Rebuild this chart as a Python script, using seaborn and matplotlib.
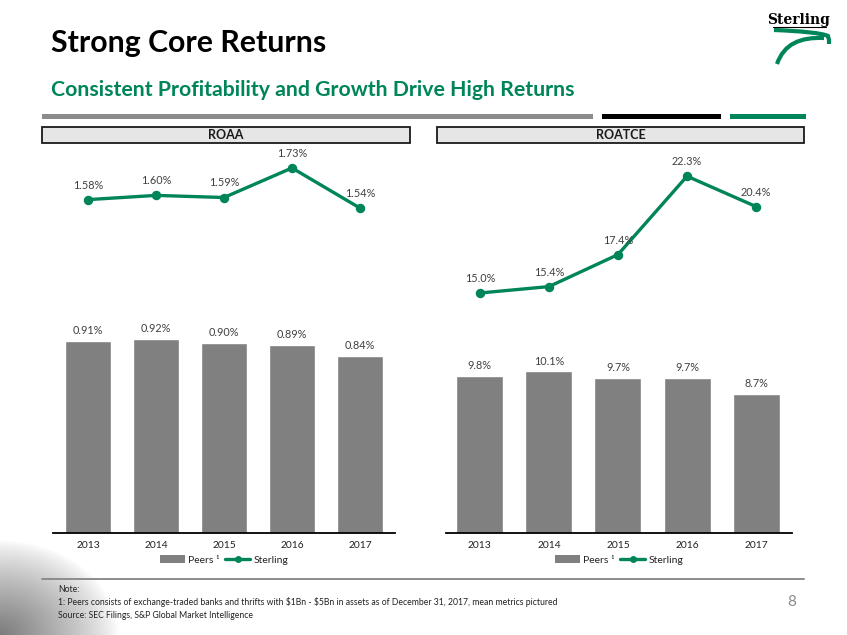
import numpy as np
import pandas as pd
import matplotlib
matplotlib.use("Agg")
import matplotlib.pyplot as plt
import seaborn as sns
from matplotlib.patches import Rectangle, Patch
from matplotlib.lines import Line2D
from matplotlib.path import Path
from matplotlib.patches import PathPatch

# ---------------- data ----------------
years = ["2013", "2014", "2015", "2016", "2017"]
roaa_peers = [0.91, 0.92, 0.90, 0.89, 0.84]
roaa_sterling = [1.58, 1.60, 1.59, 1.73, 1.54]
roatce_peers = [9.8, 10.1, 9.7, 9.7, 8.7]
roatce_sterling = [15.0, 15.4, 17.4, 22.3, 20.4]
legend_labels = ["Peers \u00b9", "Sterling"]

GREEN = "#00855A"
BAR = "#808080"
TXT = "#404040"

sns.set_theme(style="white")
plt.rcParams["font.family"] = ["Lato", "DejaVu Sans"]

W, H = 847, 635
fig = plt.figure(figsize=(W / 100, H / 100), dpi=100)
fig.patch.set_facecolor("white")


def fx(px):
    return px / W


def fy(py):
    return 1 - py / H


# ---------- bottom-left gradient decoration ----------
gax = fig.add_axes([0, 0, fx(130), 100 / H], zorder=0)
gw, gh = 130, 100
xx, yy = np.meshgrid(np.arange(gw) + 0.5, np.arange(gh) + 0.5)
dx = xx / 118.0
dy = (gh - yy) / 95.0
r = np.sqrt(dx ** 2 + dy ** 2)
alpha = np.clip(1 - r, 0, 1) ** 0.8 * 0.52
img = np.zeros((gh, gw, 4))
img[..., 3] = alpha
gax.imshow(img, extent=[0, gw, gh, 0], aspect="auto", interpolation="bilinear")
gax.set_axis_off()

# ---------------- titles ----------------
fig.text(fx(51), fy(43), "Strong Core Returns", fontsize=21.8, fontweight="bold",
         color="black", va="center", ha="left")
fig.text(fx(51), fy(90), "Consistent Profitability and Growth Drive High Returns",
         fontsize=15.3, fontweight="bold", color=GREEN, va="center", ha="left")

# top divider bars
for x0, x1, c in [(42, 593, "#8c8c8c"), (602, 721, "#000000"), (730, 806, GREEN)]:
    fig.add_artist(Rectangle((fx(x0), fy(118.5)), fx(x1 - x0), 5 / H,
                             transform=fig.transFigure, facecolor=c, edgecolor="none"))

# header boxes
for x0, x1, lab in [(42, 410, "ROAA"), (437, 804, "ROATCE")]:
    fig.add_artist(Rectangle((fx(x0), fy(143)), fx(x1 - x0), 16 / H,
                             transform=fig.transFigure, facecolor="#e6e6e6",
                             edgecolor="#1a1a1a", lw=1.3))
    fig.text(fx((x0 + x1) / 2), fy(135), lab, fontsize=9, fontweight="bold",
             color="#1a1a1a", ha="center", va="center")

# logo
fig.text(fx(799), fy(20), "Sterling", fontsize=10, fontweight="bold",
         color="black", ha="center", va="center", family=["DejaVu Serif"])
fig.add_artist(Line2D([fx(773), fx(826)], [fy(26.5), fy(26.5)], color="black",
                      lw=0.8, transform=fig.transFigure))
p1 = Path([(fx(774), fy(30)), (fx(800), fy(31)), (fx(822), fy(33)), (fx(828), fy(36)),
           (fx(829), fy(40)), (fx(829), fy(44))],
          [Path.MOVETO, Path.CURVE4, Path.CURVE4, Path.CURVE4, Path.LINETO, Path.LINETO])
fig.add_artist(PathPatch(p1, transform=fig.transFigure, fill=False, edgecolor=GREEN, lw=3))
p2 = Path([(fx(777), fy(64)), (fx(784), fy(44)), (fx(800), fy(37)), (fx(824), fy(38))],
          [Path.MOVETO, Path.CURVE4, Path.CURVE4, Path.CURVE4])
fig.add_artist(PathPatch(p2, transform=fig.transFigure, fill=False, edgecolor=GREEN, lw=3))


# ---------------- panels ----------------
def panel(x_left, x_right, xlim, ymax, peers, sterling, fmt):
    base, top = 533, 140
    ax = fig.add_axes([fx(x_left), fy(base), fx(x_right - x_left), (base - top) / H])
    df = pd.DataFrame({"year": years, "peers": peers, "sterling": sterling})
    sns.barplot(data=df, x="year", y="peers", color=BAR, width=0.68, saturation=1,
                errorbar=None, ax=ax)
    sns.pointplot(data=df, x="year", y="sterling", color=GREEN, markers="o",
                  errorbar=None, markersize=5, linewidth=2.4, ax=ax)
    ax.set_xlim(*xlim)
    ax.set_ylim(0, ymax)
    ax.set_xlabel("")
    ax.set_ylabel("")
    ax.set_yticks([])
    for s in ["left", "right", "top"]:
        ax.spines[s].set_visible(False)
    ax.spines["bottom"].set_color("black")
    ax.spines["bottom"].set_linewidth(1.3)
    ax.tick_params(axis="x", length=0, pad=5.5, labelsize=7.4, labelcolor="#222222")
    ax.patch.set_alpha(0)
    for i, v in enumerate(peers):
        ax.annotate(fmt.format(v), (i, v), xytext=(0, 3.5), textcoords="offset points",
                    ha="center", va="bottom", fontsize=7.8, color=TXT)
    for i, v in enumerate(sterling):
        ax.annotate(fmt.format(v), (i, v), xytext=(0, 6.5), textcoords="offset points",
                    ha="center", va="bottom", fontsize=7.8, color=TXT)
    handles = [Patch(facecolor=BAR, edgecolor="none"),
               Line2D([], [], color=GREEN, lw=2.4, marker="o", markersize=4)]
    ax.legend(handles, legend_labels, loc="center",
              bbox_to_anchor=(0.5, -(560 - base) / (base - top)), ncol=2, frameon=False,
              fontsize=7.5, handlelength=2.4, handletextpad=0.3, columnspacing=0.6,
              borderaxespad=0, labelcolor="#222222")
    return ax


panel(53, 395, (-0.515, 4.515), 393 / 211.0, roaa_peers, roaa_sterling, "{:.2f}%")
panel(446, 792, (-0.49, 4.52), 393 / 16.0, roatce_peers, roatce_sterling, "{:.1f}%")

# ---------------- footnotes ----------------
fig.add_artist(Line2D([fx(42), fx(804)], [fy(579), fy(579)], color="#8c8c8c", lw=1.4,
                      transform=fig.transFigure))
fig.text(fx(58), fy(589), "Note:", fontsize=6.2, color="#222222", va="center")
fig.text(fx(58), fy(602),
         "1: Peers consists of exchange-traded banks and thrifts with \\$1Bn - \\$5Bn in assets as of December 31, 2017, mean metrics pictured",
         fontsize=6.2, color="#222222", va="center")
fig.text(fx(58), fy(616), "Source: SEC Filings, S&P Global Market Intelligence",
         fontsize=6.2, color="#222222", va="center")
fig.text(fx(792), fy(602), "8", fontsize=11, color="#8c8c8c", va="center", ha="center")

fig.savefig("out.png", dpi=100, facecolor="white")
